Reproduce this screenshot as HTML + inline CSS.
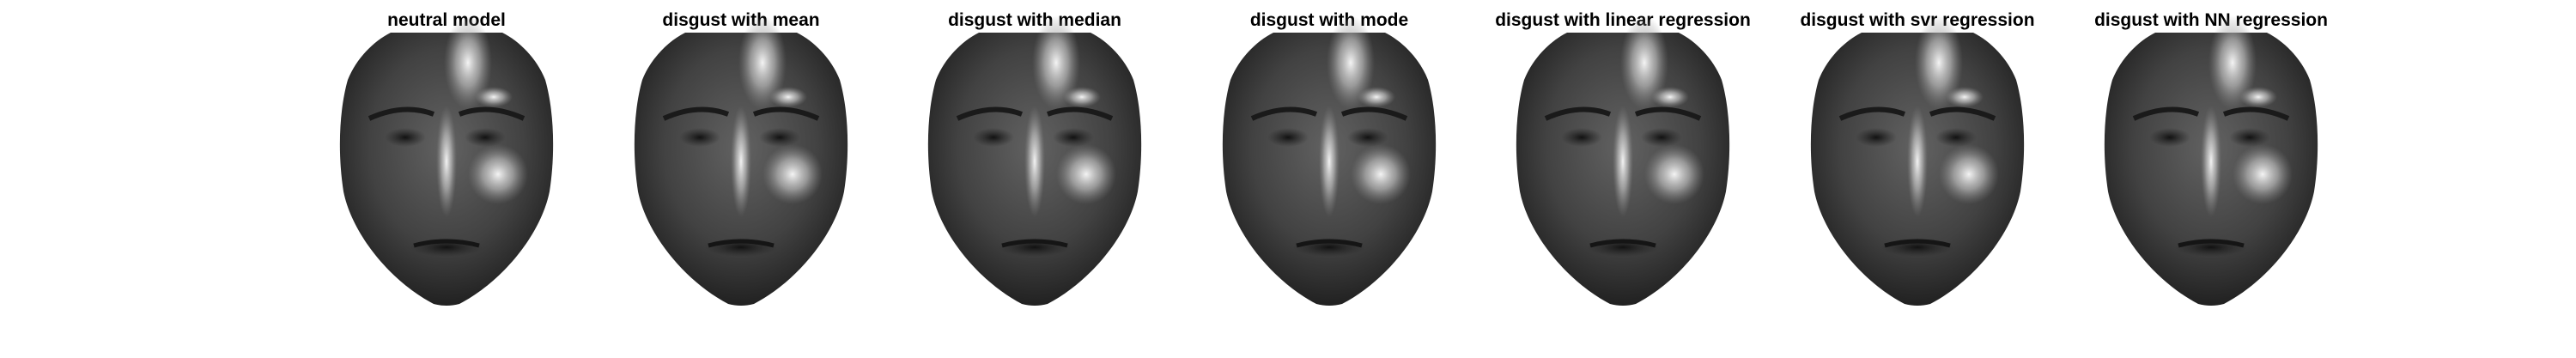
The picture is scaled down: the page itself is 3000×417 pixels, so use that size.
<!DOCTYPE html>
<html><head><meta charset="utf-8"><style>
html,body{margin:0;padding:0;background:#fff;}
svg{display:block;}
text{font-family:"Liberation Sans",Arial,sans-serif;font-weight:bold;font-size:21px;fill:#000;}
</style></head><body>
<svg width="3000" height="417" viewBox="0 0 3000 417">
<defs>
<radialGradient id="skin" cx="0.5" cy="0.42" r="0.6">
<stop offset="0" stop-color="#626262"/><stop offset="0.6" stop-color="#424242"/><stop offset="1" stop-color="#1e1e1e"/>
</radialGradient>
<radialGradient id="hl" cx="0.5" cy="0.5" r="0.5">
<stop offset="0" stop-color="#f4f4f4"/><stop offset="0.5" stop-color="#bbb" stop-opacity="0.7"/><stop offset="1" stop-color="#888" stop-opacity="0"/>
</radialGradient>
<radialGradient id="dk" cx="0.5" cy="0.5" r="0.5">
<stop offset="0" stop-color="#111"/><stop offset="1" stop-color="#222" stop-opacity="0"/>
</radialGradient>
<g id="face">
<path d="M -65 0 L 65 0 C 85 10,105 30,115 55 C 125 90,127 140,120 185 C 110 235,65 290,15 316 Q 0 320 -15 316 C -65 290,-110 235,-120 185 C -127 140,-125 90,-115 55 C -105 30,-85 10,-65 0 Z" fill="url(#skin)"/>
<ellipse cx="25" cy="35" rx="28" ry="55" fill="url(#hl)"/>
<ellipse cx="55" cy="75" rx="22" ry="12" fill="url(#hl)"/>
<ellipse cx="0" cy="150" rx="12" ry="65" fill="url(#hl)"/>
<ellipse cx="60" cy="165" rx="35" ry="35" fill="url(#hl)"/>
<path d="M -90 100 Q -50 82 -15 95" stroke="#1a1a1a" stroke-width="6" fill="none"/>
<path d="M 15 95 Q 50 82 90 100" stroke="#1a1a1a" stroke-width="6" fill="none"/>
<ellipse cx="-48" cy="122" rx="24" ry="11" fill="url(#dk)"/>
<ellipse cx="45" cy="122" rx="24" ry="11" fill="url(#dk)"/>
<ellipse cx="0" cy="250" rx="42" ry="11" fill="url(#dk)"/>
<path d="M -38 248 Q 0 238 38 248" stroke="#151515" stroke-width="5" fill="none"/>
</g>
</defs>
<g><text x="520" y="30" text-anchor="middle">neutral model</text><use href="#face" x="520" y="38"/></g>
<g><text x="863" y="30" text-anchor="middle">disgust with mean</text><use href="#face" x="863" y="38"/></g>
<g><text x="1205" y="30" text-anchor="middle">disgust with median</text><use href="#face" x="1205" y="38"/></g>
<g><text x="1548" y="30" text-anchor="middle">disgust with mode</text><use href="#face" x="1548" y="38"/></g>
<g><text x="1890" y="30" text-anchor="middle">disgust with linear regression</text><use href="#face" x="1890" y="38"/></g>
<g><text x="2233" y="30" text-anchor="middle">disgust with svr regression</text><use href="#face" x="2233" y="38"/></g>
<g><text x="2575" y="30" text-anchor="middle">disgust with NN regression</text><use href="#face" x="2575" y="38"/></g>
</svg>
</body></html>
